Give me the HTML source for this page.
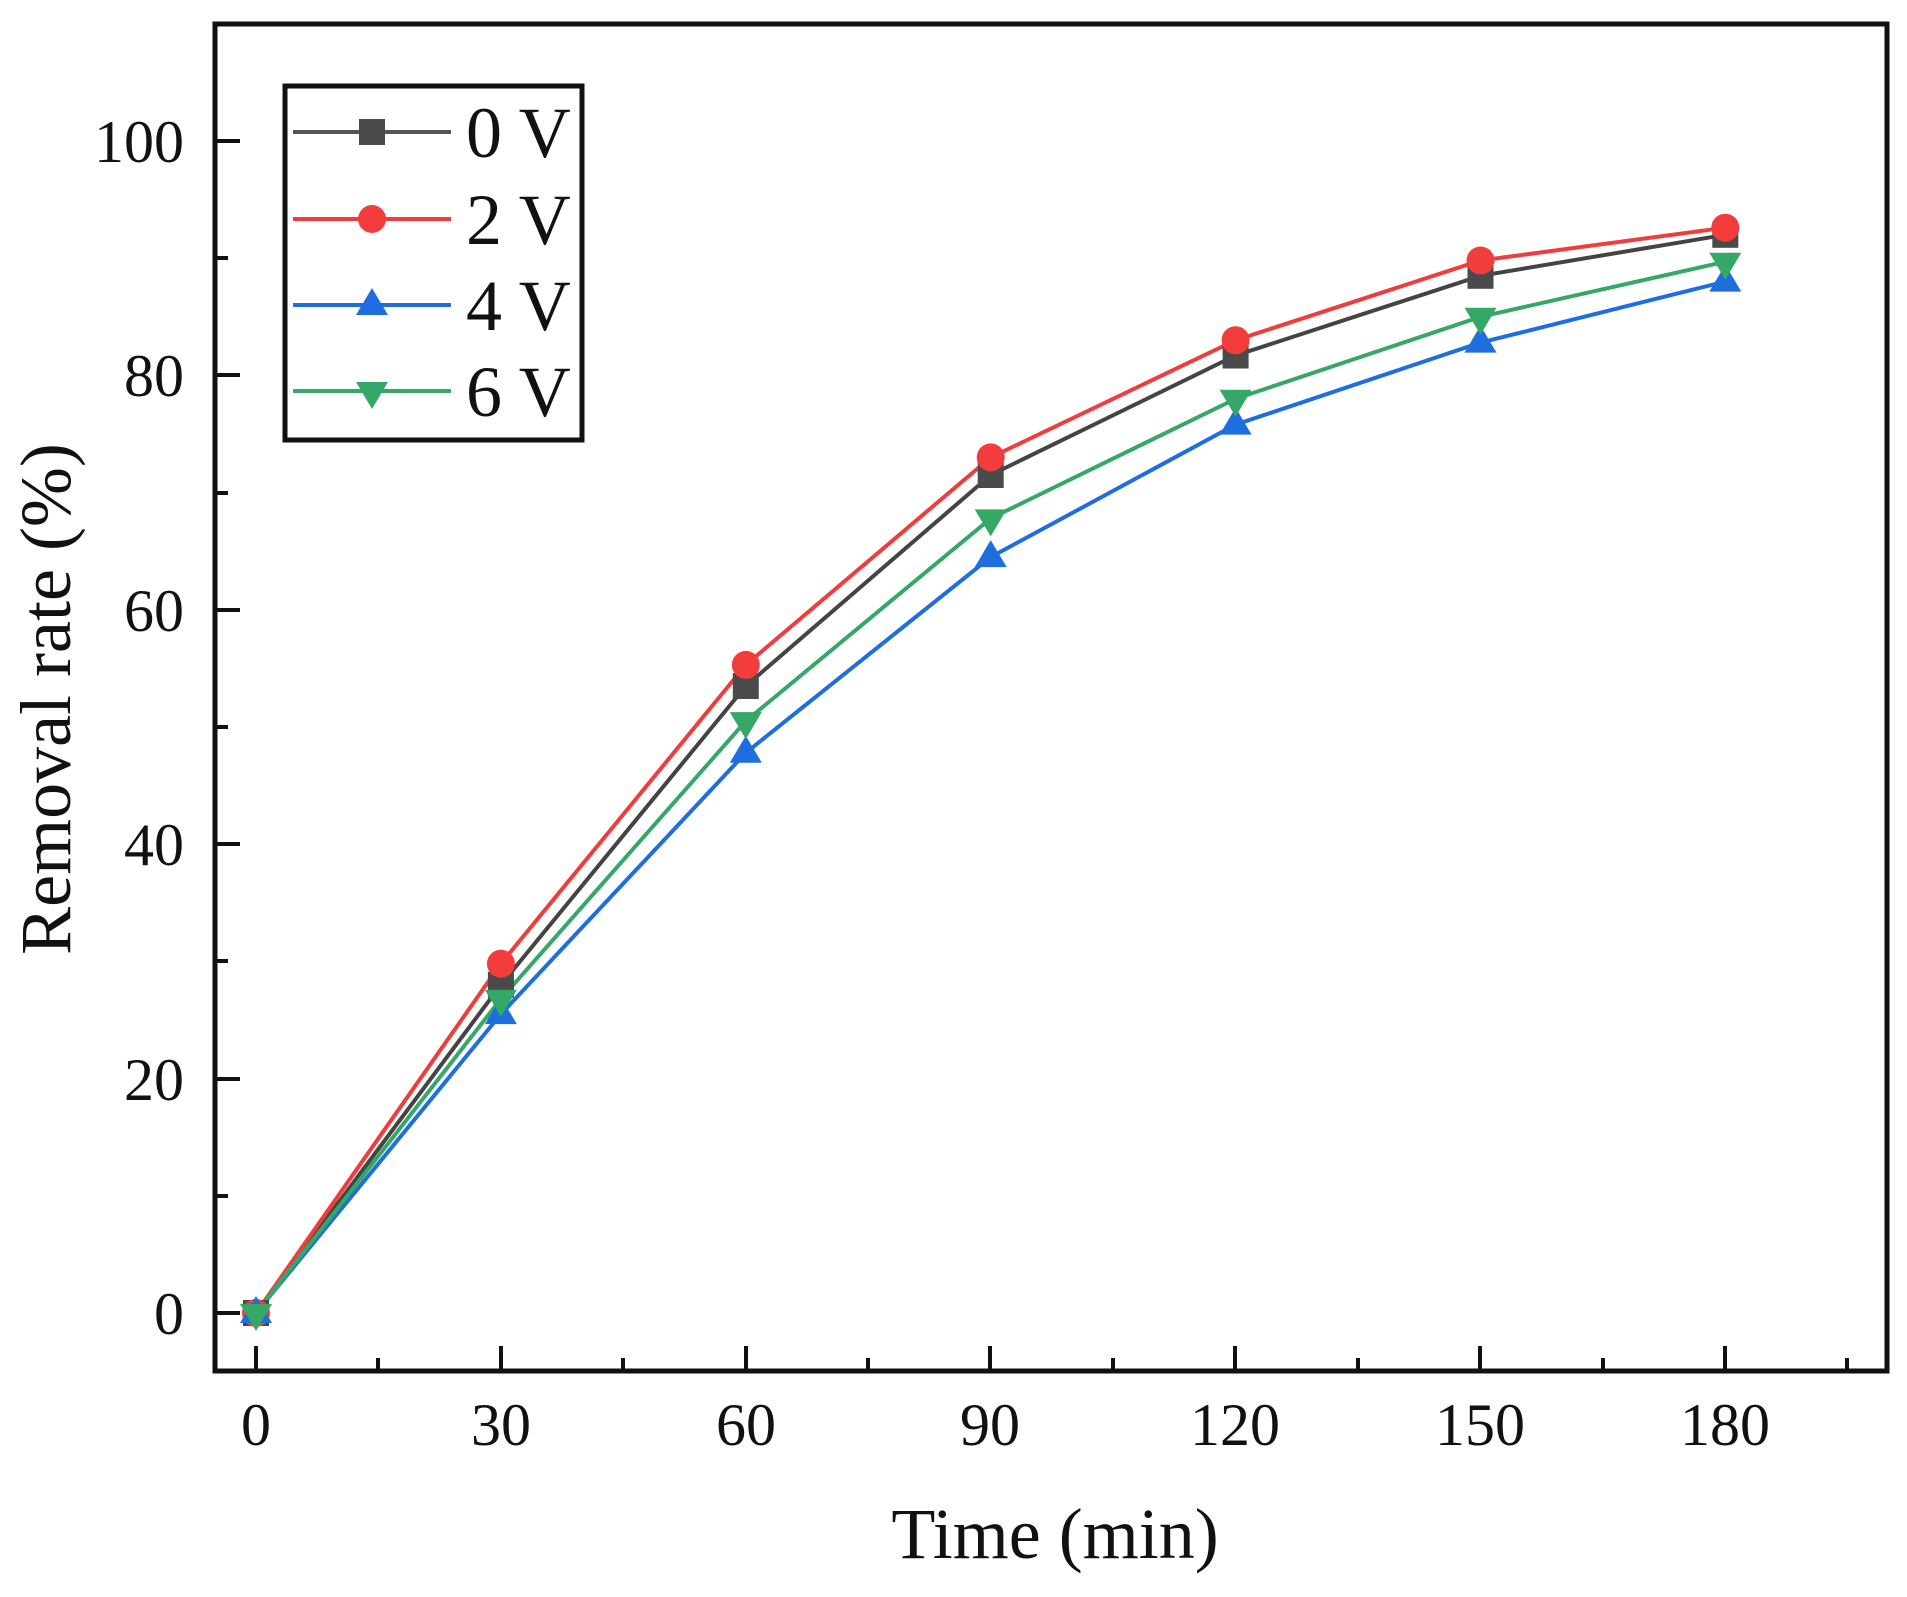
<!DOCTYPE html>
<html><head><style>body{margin:0;background:#fff}</style></head><body>
<svg width="1907" height="1592" xmlns="http://www.w3.org/2000/svg" xmlns:xlink="http://www.w3.org/1999/xlink" font-family="Liberation Serif, serif">
<defs>
<rect id="ms" x="-13" y="-13" width="26" height="26" fill="#4a4a4a"/>
<circle id="mc" r="14" fill="#f33c3c"/>
<polygon id="mu" points="0,-17 -16,10 16,10" fill="#1f6ee0"/>
<polygon id="md" points="-16,-9 16,-9 0,18" fill="#35a868"/>
</defs>
<rect width="1907" height="1592" fill="#fff"/>
<g fill="none" stroke-width="4">
<polyline stroke="#444" points="256,1313 500.9,984.8 745.8,686 990.7,475 1235.6,355.5 1480.5,275.8 1725.3,234.8"/>
<polyline stroke="#f03c3c" points="256,1313 500.9,963.7 745.8,664.9 990.7,457.4 1235.6,340.2 1480.5,260.5 1725.3,227.7"/>
<polyline stroke="#1f6ee0" points="256,1313 500.9,1014.1 745.8,752.8 990.7,557.1 1235.6,424.6 1480.5,342.6 1725.3,281.6"/>
<polyline stroke="#35a868" points="256,1313 500.9,998.9 745.8,721.1 990.7,518.4 1235.6,398.8 1480.5,316.8 1725.3,261.7"/>
</g>
<use xlink:href="#ms" x="256" y="1313"/><use xlink:href="#ms" x="500.9" y="984.8"/><use xlink:href="#ms" x="745.8" y="686"/><use xlink:href="#ms" x="990.7" y="475"/><use xlink:href="#ms" x="1235.6" y="355.5"/><use xlink:href="#ms" x="1480.5" y="275.8"/><use xlink:href="#ms" x="1725.3" y="234.8"/>
<use xlink:href="#mc" x="256" y="1313"/><use xlink:href="#mc" x="500.9" y="963.7"/><use xlink:href="#mc" x="745.8" y="664.9"/><use xlink:href="#mc" x="990.7" y="457.4"/><use xlink:href="#mc" x="1235.6" y="340.2"/><use xlink:href="#mc" x="1480.5" y="260.5"/><use xlink:href="#mc" x="1725.3" y="227.7"/>
<use xlink:href="#mu" x="256" y="1313"/><use xlink:href="#mu" x="500.9" y="1014.1"/><use xlink:href="#mu" x="745.8" y="752.8"/><use xlink:href="#mu" x="990.7" y="557.1"/><use xlink:href="#mu" x="1235.6" y="424.6"/><use xlink:href="#mu" x="1480.5" y="342.6"/><use xlink:href="#mu" x="1725.3" y="281.6"/>
<use xlink:href="#md" x="256" y="1313"/><use xlink:href="#md" x="500.9" y="998.9"/><use xlink:href="#md" x="745.8" y="721.1"/><use xlink:href="#md" x="990.7" y="518.4"/><use xlink:href="#md" x="1235.6" y="398.8"/><use xlink:href="#md" x="1480.5" y="316.8"/><use xlink:href="#md" x="1725.3" y="261.7"/>
<rect x="215" y="24" width="1672" height="1347" fill="none" stroke="#111" stroke-width="5"/>
<g stroke="#111" stroke-width="4">
<line x1="256" y1="1371" x2="256" y2="1346"/><line x1="501" y1="1371" x2="501" y2="1346"/><line x1="746" y1="1371" x2="746" y2="1346"/><line x1="990" y1="1371" x2="990" y2="1346"/><line x1="1235" y1="1371" x2="1235" y2="1346"/><line x1="1480" y1="1371" x2="1480" y2="1346"/><line x1="1725" y1="1371" x2="1725" y2="1346"/>
<line x1="378" y1="1371" x2="378" y2="1358"/><line x1="623" y1="1371" x2="623" y2="1358"/><line x1="868" y1="1371" x2="868" y2="1358"/><line x1="1113" y1="1371" x2="1113" y2="1358"/><line x1="1358" y1="1371" x2="1358" y2="1358"/><line x1="1603" y1="1371" x2="1603" y2="1358"/><line x1="1847" y1="1371" x2="1847" y2="1358"/>
<line x1="215" y1="1313" x2="240" y2="1313"/><line x1="215" y1="1079" x2="240" y2="1079"/><line x1="215" y1="844" x2="240" y2="844"/><line x1="215" y1="610" x2="240" y2="610"/><line x1="215" y1="375" x2="240" y2="375"/><line x1="215" y1="141" x2="240" y2="141"/>
<line x1="215" y1="1196" x2="228" y2="1196"/><line x1="215" y1="961" x2="228" y2="961"/><line x1="215" y1="727" x2="228" y2="727"/><line x1="215" y1="493" x2="228" y2="493"/><line x1="215" y1="258" x2="228" y2="258"/>
</g>
<g font-size="60" fill="#111" text-anchor="middle">
<text x="256" y="1445">0</text><text x="501" y="1445">30</text><text x="746" y="1445">60</text><text x="990" y="1445">90</text><text x="1235" y="1445">120</text><text x="1480" y="1445">150</text><text x="1725" y="1445">180</text>
</g>
<g font-size="60" fill="#111" text-anchor="end">
<text x="184" y="1334">0</text><text x="184" y="1100">20</text><text x="184" y="865">40</text><text x="184" y="631">60</text><text x="184" y="396">80</text><text x="184" y="162">100</text>
</g>
<text x="1055" y="1558" font-size="72" text-anchor="middle" fill="#111">Time (min)</text>
<text transform="translate(70,699) rotate(-90)" font-size="72" text-anchor="middle" fill="#111">Removal rate (%)</text>
<rect x="285" y="86" width="297" height="354" fill="#fff" stroke="#111" stroke-width="5"/>
<g stroke-width="4">
<line x1="293" y1="132" x2="451" y2="132" stroke="#555"/>
<use xlink:href="#ms" x="372" y="132"/>
<line x1="293" y1="219" x2="451" y2="219" stroke="#f03c3c"/>
<use xlink:href="#mc" x="372" y="219"/>
<line x1="293" y1="305" x2="451" y2="305" stroke="#1f6ee0"/>
<use xlink:href="#mu" x="372" y="305"/>
<line x1="293" y1="391" x2="451" y2="391" stroke="#35a868"/>
<use xlink:href="#md" x="372" y="391"/>
</g>
<g font-size="72" fill="#111">
<text x="466" y="157">0 V</text><text x="466" y="244">2 V</text><text x="466" y="330">4 V</text><text x="466" y="416">6 V</text>
</g>
</svg>
</body></html>
